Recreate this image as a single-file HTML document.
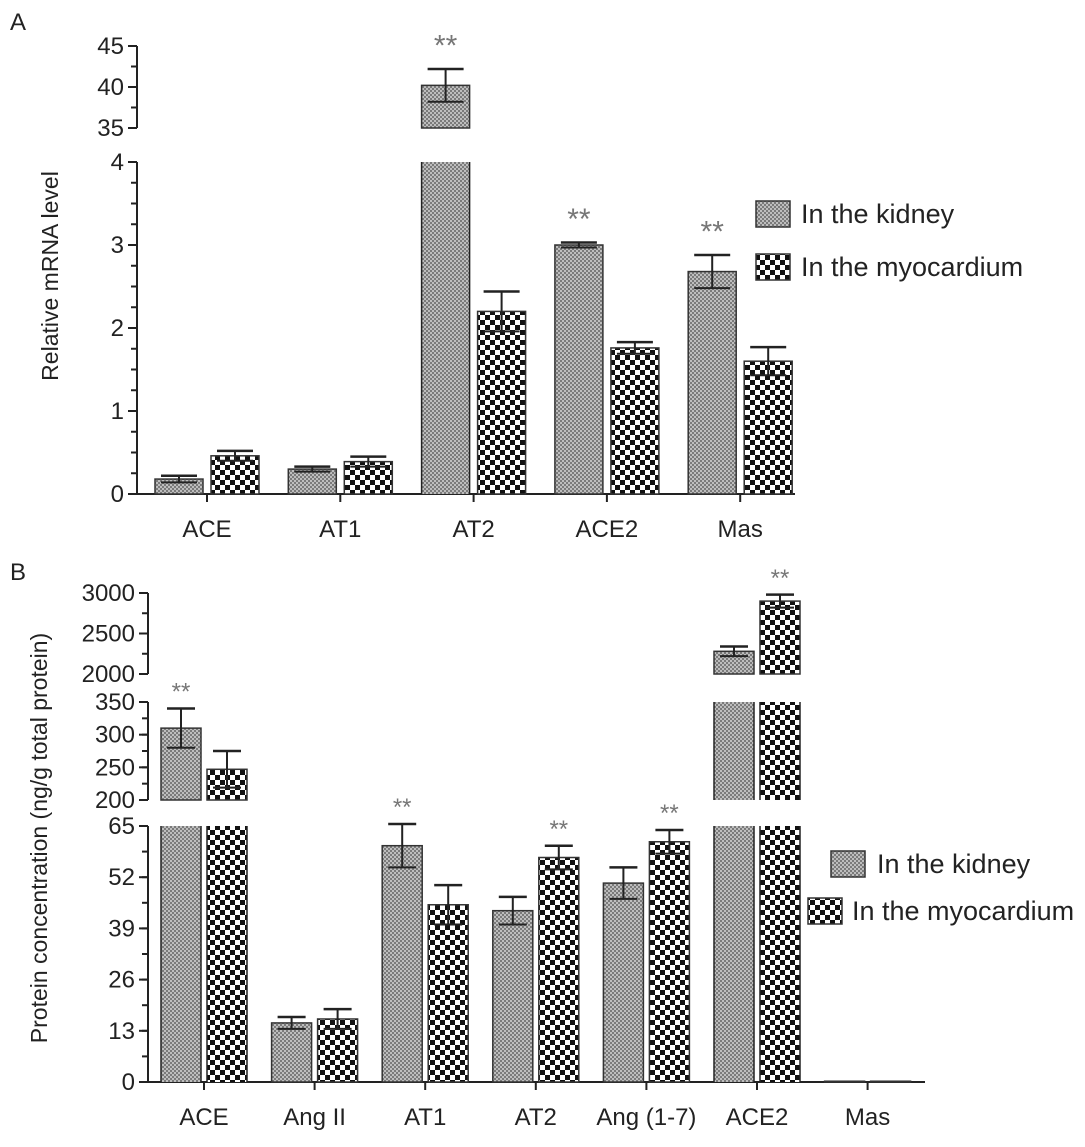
<!DOCTYPE html>
<html><head><meta charset="utf-8"><style>
body{margin:0;background:#fff;}
svg text{font-family:"Liberation Sans",Arial,sans-serif;fill:#222;}
</style></head><body>
<svg width="1085" height="1142" viewBox="0 0 1085 1142" xmlns="http://www.w3.org/2000/svg">
<defs>
<pattern id="pk" width="4" height="4" patternUnits="userSpaceOnUse">
<rect width="4" height="4" fill="#bdbdbd"/><rect width="2" height="2" fill="#7a7a7a"/><rect x="2" y="2" width="2" height="2" fill="#7a7a7a"/>
</pattern>
<pattern id="pm" width="10" height="10" patternUnits="userSpaceOnUse">
<rect width="10" height="10" fill="#fff"/><rect width="5" height="5" fill="#111"/><rect x="5" y="5" width="5" height="5" fill="#111"/>
</pattern>
</defs>
<g id="root"></g>
</svg>
<script>
// Panel A data
const catsA = ["ACE","AT1","AT2","ACE2","Mas"];
const kidA = [0.18,0.30,40.2,3.0,2.68];
const kidErrA = [0.04,0.03,2.0,0.03,0.2];
const myoA = [0.46,0.39,2.2,1.76,1.6];
const myoErrA = [0.06,0.06,0.24,0.07,0.17];
const kidSigA = [0,0,1,1,1];
const myoSigA = [0,0,0,0,0];
// Panel B data
const catsB = ["ACE","Ang II","AT1","AT2","Ang (1-7)","ACE2","Mas"];
const kidB = [310,15,60,43.5,50.5,2280,0.2];
const kidErrB = [30,1.5,5.5,3.5,4,60,0];
const myoB = [247,16,45,57,61,2900,0.2];
const myoErrB = [28,2.5,5,3,3,80,0];
const kidSigB = [1,0,1,0,0,0,0];
const myoSigB = [0,0,0,1,1,1,0];
const ticksA = [[35,40,45],[0,1,2,3,4]];
const ticksB = [[2000,2500,3000],[200,250,300,350],[0,13,26,39,52,65]];

const NS="http://www.w3.org/2000/svg";
const root=document.getElementById('root');
function mk(tag,attrs,parent){const e=document.createElementNS(NS,tag);for(const k in attrs)e.setAttribute(k,attrs[k]);(parent||root).appendChild(e);return e;}
function line(x1,y1,x2,y2,w,p){return mk('line',{x1,y1,x2,y2,stroke:'#222','stroke-width':w||2},p);}
function txt(s,x,y,size,anchor,p){const t=mk('text',{x,y,'font-size':size,'text-anchor':anchor||'middle'},p);t.textContent=s;return t;}

function panel(o){
  const g=mk('g',{});
  
  
  const segs=o.segs;
  function yOf(v){
    let best=segs[0];
    for(const s of segs){if(v>=s.lo&&v<=s.hi){best=s;break;} if(v>=s.lo&&s.lo>=best.lo)best=s;}
    return best.y0-(v-best.lo)/(best.hi-best.lo)*(best.y0-best.y1);
  }
  segs.forEach((s,si)=>{
    const ax=mk('g',{},g);
    
    
    line(o.ax,s.y0,o.ax,s.y1,2,ax);
    for(let i=0;i<=s.minorN;i++){const y=s.y0-i*(s.y0-s.y1)/s.minorN;line(o.ax-6,y,o.ax,y,2,ax);}
    s.ticks.forEach(v=>{const y=s.y0-(v-s.lo)/(s.hi-s.lo)*(s.y0-s.y1);line(o.ax-9,y,o.ax,y,2,ax);
      const t=txt(String(v),o.ax-13,y+8,o.fs,'end',ax);
      
      });
  });
  line(o.ax,o.base,o.axEnd,o.base,2,g);
  o.cats.forEach((c,i)=>{
    const cx=o.x0+i*o.step;
    line(cx,o.base,cx,o.base+8,2,g);
    const t=txt(c,cx,o.base+43,o.fs,'middle',g);
    
    
  });
  function bar(cx,v,err,sig,fill,nm){
    const bg=mk('g',{},g);
    
    
    const x=cx-o.bw/2;
    segs.forEach(s=>{
      if(v>s.lo){const top=Math.min(v,s.hi);const y=s.y0-(top-s.lo)/(s.hi-s.lo)*(s.y0-s.y1);
        mk('rect',{x,y,width:o.bw,height:s.y0-y,fill:fill,stroke:'#333','stroke-width':v>s.hi?0:1.5},bg);
        if(v>s.hi){line(x,s.y1,x,s.y0,1.5,bg);line(x+o.bw,s.y1,x+o.bw,s.y0,1.5,bg);}}
    });
    if(err>0){const yt=yOf(v+err),yb=yOf(v-err);
      line(cx,yt,cx,yb,2,bg);line(cx-o.cap,yt,cx+o.cap,yt,2.5,bg);line(cx-o.cap,yb,cx+o.cap,yb,2,bg);}
    if(sig){const yt=yOf(v+err);const s=txt('**',cx,yt-o.starGap+o.starFs*0.55,o.starFs,'middle',bg);s.style.fill='#777';
      
      }
  }
  o.cats.forEach((c,i)=>{
    const cx=o.x0+i*o.step;
    bar(cx-o.off,o.kid[i],o.kidErr[i],o.kidSig[i],'url(#pk)','bar-kidney-'+c);
    bar(cx+o.off,o.myo[i],o.myoErr[i],o.myoSig[i],'url(#pm)','bar-myocardium-'+c);
  });
  const lg=mk('g',{},g);
  
  
  o.legend.forEach(L=>{
    const e=mk('g',{},lg);
    
    
    mk('rect',{x:L.bx,y:L.by,width:34,height:26,fill:L.fill,stroke:'#333','stroke-width':1.5},e);
    txt(L.text,L.tx,L.by+22,o.legFs,'start',e);
  });
  const yt=txt(o.ytitle,0,0,o.fs-1,'middle',g);
  yt.setAttribute('transform','translate('+o.ytx+','+o.yty+') rotate(-90)');
  
  
  const pl=txt(o.label,o.lx,o.ly,24,'start',g);
  
  
}

panel({name:'panel-a-mrna-chart',cats:catsA,kid:kidA,kidErr:kidErrA,myo:myoA,myoErr:myoErrA,kidSig:kidSigA,myoSig:myoSigA,
  segs:[{lo:0,hi:4,y0:494,y1:162,ticks:ticksA[1],minorN:16},{lo:35,hi:45,y0:128,y1:46,ticks:ticksA[0],minorN:4}],
  ax:137,axEnd:795,base:494,x0:207,step:133.3,off:28,bw:48,cap:18,fs:24,starFs:30,starGap:30,legFs:27,
  legend:[{bx:756,by:201,fill:'url(#pk)',text:'In the kidney',tx:801},{bx:756,by:254,fill:'url(#pm)',text:'In the myocardium',tx:801}],
  ytitle:'Relative mRNA level',ytx:58,yty:276,label:'A',lx:10,ly:30});

panel({name:'panel-b-protein-chart',cats:catsB,kid:kidB,kidErr:kidErrB,myo:myoB,myoErr:myoErrB,kidSig:kidSigB,myoSig:myoSigB,
  segs:[{lo:0,hi:65,y0:1082,y1:826,ticks:ticksB[2],minorN:10},{lo:200,hi:350,y0:800,y1:702,ticks:ticksB[1],minorN:6},{lo:2000,hi:3000,y0:674,y1:593,ticks:ticksB[0],minorN:4}],
  ax:148,axEnd:925,base:1082,x0:204,step:110.6,off:23,bw:40,cap:14,fs:24,starFs:24,starGap:22,legFs:27,
  legend:[{bx:831,by:851,fill:'url(#pk)',text:'In the kidney',tx:877},{bx:808,by:898,fill:'url(#pm)',text:'In the myocardium',tx:852}],
  ytitle:'Protein concentration (ng/g total protein)',ytx:47,yty:838,label:'B',lx:10,ly:580});
</script>
</body></html>
